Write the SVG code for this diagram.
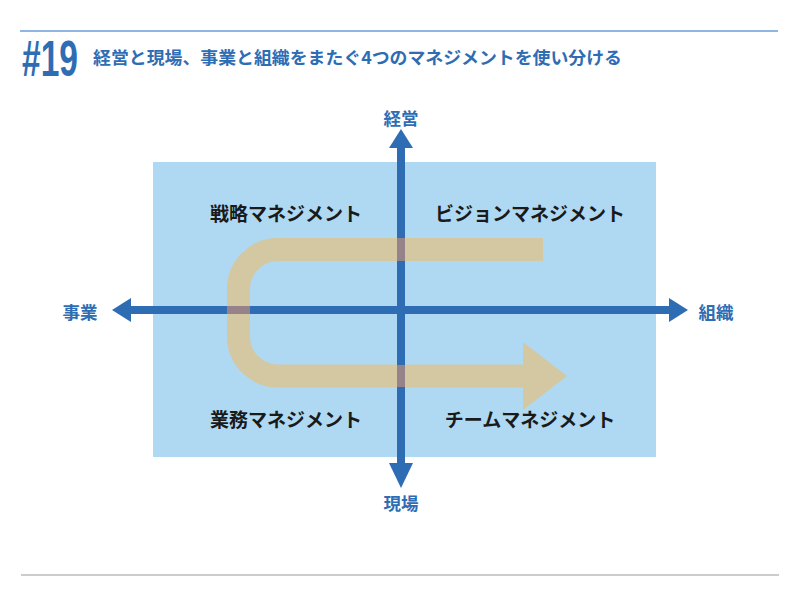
<svg xmlns="http://www.w3.org/2000/svg" width="800" height="601" viewBox="0 0 800 601">
<style>
.ax{fill:#2e6db4}
.axl{font-family:"Noto Sans CJK JP","Noto Sans",sans-serif;font-weight:bold;font-size:17.5px;fill:#2e6db4;text-anchor:middle;dominant-baseline:central}
.ql{font-family:"Noto Sans CJK JP","Noto Sans",sans-serif;font-weight:bold;font-size:19px;fill:#1a1a1a;text-anchor:middle;dominant-baseline:central}
.ov{fill:#968389}
</style>
<rect width="800" height="601" fill="#ffffff"/>
<g id="header">
<line x1="20" y1="31" x2="778" y2="31" stroke="#6a9fd8" stroke-width="1.5"/>
<text x="22" y="76" font-family="Liberation Sans, sans-serif" font-weight="bold" font-size="50" fill="#2e6db4" textLength="56" lengthAdjust="spacingAndGlyphs">#19</text>
<text x="93" y="64" font-family="Noto Sans CJK JP, sans-serif" font-weight="bold" font-size="17.5" fill="#2e6db4" textLength="529" lengthAdjust="spacingAndGlyphs">経営と現場、事業と組織をまたぐ4つのマネジメントを使い分ける</text>
</g>
<rect id="background" x="153" y="162" width="503" height="295" fill="#afd9f3"/>
<g id="flow">
<path d="M543 249.5 H278 A39.5 39.5 0 0 0 238.5 289 V336.5 A39.5 39.5 0 0 0 278 376 H525" fill="none" stroke="#d3c8a1" stroke-width="23"/>
<polygon points="523,342 567,376 523,410" fill="#d3c8a1"/>
</g>
<g id="connectors">
<rect class="ax" x="397" y="146" width="8" height="320"/>
<polygon class="ax" points="401,129 389,148 413,148"/>
<polygon class="ax" points="401,488 389,463 413,463"/>
<rect class="ax" x="128" y="306" width="545" height="8"/>
<polygon class="ax" points="112,310 131,298 131,322"/>
<polygon class="ax" points="688,310 669,298 669,322"/>
<rect class="ov" x="397" y="238" width="8" height="23"/>
<rect class="ov" x="227" y="306" width="23" height="8"/>
<rect class="ov" x="397" y="365" width="8" height="22"/>
</g>
<g id="axis-top"><text class="axl" x="401" y="117">経営</text></g>
<g id="axis-bottom"><text class="axl" x="401" y="502">現場</text></g>
<g id="axis-left"><text class="axl" x="80" y="311">事業</text></g>
<g id="axis-right"><text class="axl" x="716" y="311">組織</text></g>
<g id="q-strategy"><text class="ql" x="286" y="212">戦略マネジメント</text></g>
<g id="q-vision"><text class="ql" x="530" y="212">ビジョンマネジメント</text></g>
<g id="q-business"><text class="ql" x="286" y="418">業務マネジメント</text></g>
<g id="q-team"><text class="ql" x="530" y="418">チームマネジメント</text></g>
<line id="footer" x1="21" y1="575" x2="779" y2="575" stroke="#cccccc" stroke-width="2"/>
</svg>
